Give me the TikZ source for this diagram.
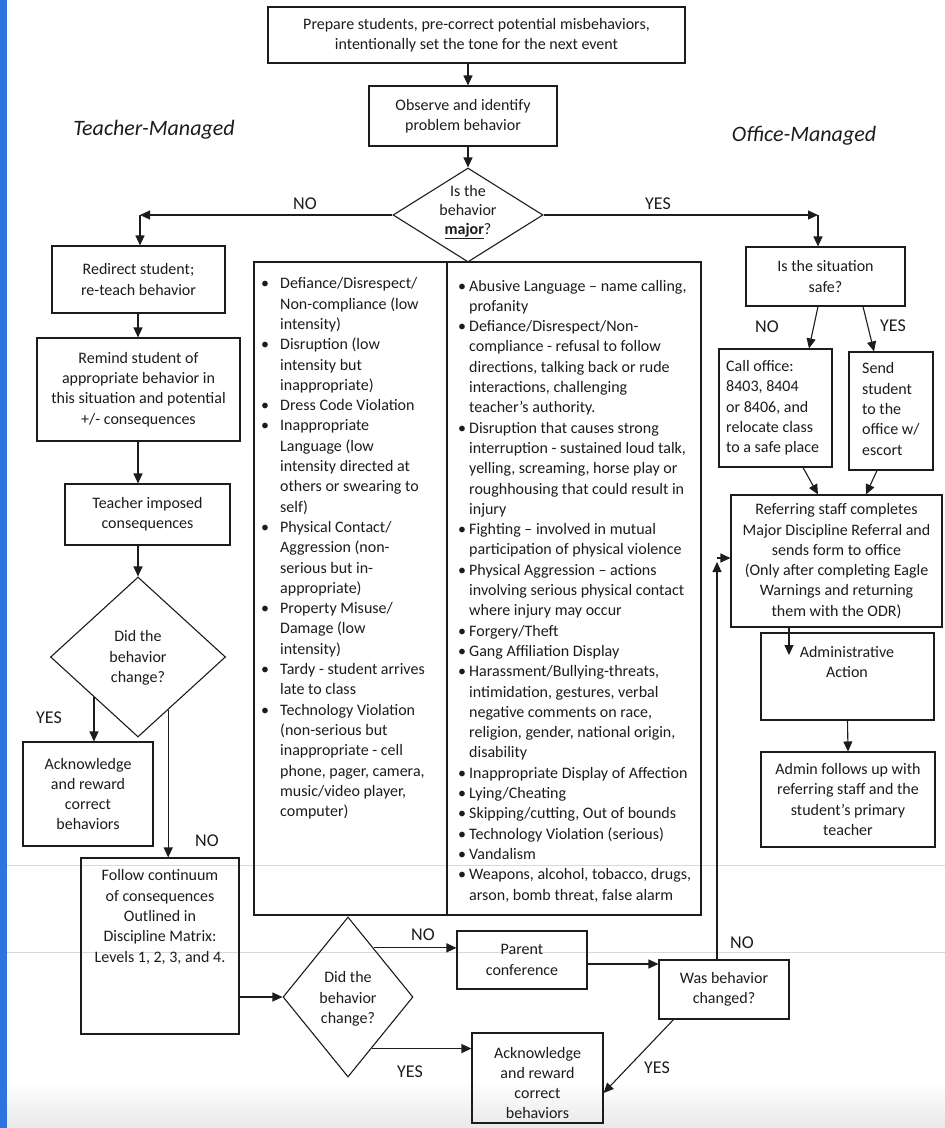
\documentclass[tikz,border=0pt]{standalone}
\usepackage{fontspec}
\setmainfont{Carlito}
\usetikzlibrary{arrows.meta,shapes.geometric,calc}
\definecolor{ink}{RGB}{28,28,28}
\definecolor{strip}{RGB}{45,115,225}
\newcommand{\lbul}{\makebox[19pt][l]{\textbullet}}
\newcommand{\lind}{\hspace*{19pt}}
\newcommand{\rbul}{\makebox[11pt][l]{\textbullet}}
\newcommand{\rind}{\hspace*{11pt}}
\begin{document}
\begin{tikzpicture}[x=1pt,y=-1pt,
  box/.style={draw=ink,line width=1.1pt,rectangle,inner sep=0pt},
  txt/.style={text=ink,font=\fontsize{16}{20.3}\selectfont,align=center,inner sep=0pt},
  ltxt/.style={text=ink,font=\fontsize{16}{20.3}\selectfont,align=left,inner sep=0pt},
  lab/.style={text=ink,font=\fontsize{18}{20}\selectfont,inner sep=0pt},
  head/.style={text=ink,font=\fontsize{22}{24}\selectfont\itshape,inner sep=0pt},
  dia/.style={draw=ink,line width=1.1pt,diamond,inner sep=0pt},
  arr/.style={draw=ink,line width=1.1pt,-{Triangle[length=10pt,width=9pt]}},
]
\useasboundingbox (0,0) rectangle (945,1128);
\fill[white] (0,0) rectangle (945,1128);
\shade[top color=white,bottom color=black!9] (0,1082) rectangle (945,1128);
\fill[strip] (0,0) rectangle (7,1128);
\draw[gray!30,line width=1pt] (7,865) -- (945,865);
\draw[gray!30,line width=1pt] (7,952) -- (945,952);

% headings
\node[head] (tm) at (154,130) {Teacher-Managed};
\node[head] (om) at (804,136) {Office-Managed};

% top
\node[box,txt,minimum width=417pt,minimum height=56pt] (top) at (476.5,35)
  {Prepare students, pre-correct potential misbehaviors,\\intentionally set the tone for the next event};
\node[box,txt,minimum width=188pt,minimum height=60pt] (obs) at (463,116)
  {Observe and identify\\problem behavior};
\node[dia,minimum width=150pt,minimum height=94pt] (maj) at (468,215) {};
\node[txt,font=\fontsize{16}{19}\selectfont] (majT) at (468,212) {Is the\\behavior\\\textbf{\underline{major}}?};

% left column
\node[box,txt,minimum width=173pt,minimum height=67pt] (redirect) at (138.5,279.5)
  {Redirect student;\\re-teach behavior};
\node[box,txt,minimum width=203pt,minimum height=103pt] (remind) at (138.5,389.5)
  {Remind student of\\appropriate behavior in\\this situation and potential\\+/- consequences};
\node[box,txt,minimum width=165pt,minimum height=61pt] (teacher) at (147.5,514.5)
  {Teacher imposed\\consequences};
\node[dia,minimum width=175pt,minimum height=160pt] (dia1) at (138,657) {};
\node[txt] (dia1T) at (138,658) {Did the\\behavior\\change?};
\node[box,txt,minimum width=130pt,minimum height=104pt] (ack1) at (88,794)
  {Acknowledge\\and reward\\correct\\behaviors};
\node[box,minimum width=158pt,minimum height=176pt] (follow) at (160,946) {};
\node[txt] (followT) at (160,917)
  {Follow continuum\\of consequences\\Outlined in\\Discipline Matrix:\\Levels 1, 2, 3, and 4.};

% middle lists
\node[box,minimum width=193pt,minimum height=653pt] (listL) at (350.5,588.5) {};
\node[box,minimum width=254pt,minimum height=653pt] (listR) at (574,588.5) {};
\node[ltxt,anchor=west] (listLT) at (261,548.5)
 {\lbul Defiance/Disrespect/\\
  \lind Non-compliance (low\\
  \lind intensity)\\
  \lbul Disruption (low\\
  \lind intensity but\\
  \lind inappropriate)\\
  \lbul Dress Code Violation\\
  \lbul Inappropriate\\
  \lind Language (low\\
  \lind intensity directed at\\
  \lind others or swearing to\\
  \lind self)\\
  \lbul Physical Contact/\\
  \lind Aggression (non-\\
  \lind serious but in-\\
  \lind appropriate)\\
  \lbul Property Misuse/\\
  \lind Damage (low\\
  \lind intensity)\\
  \lbul Tardy - student arrives\\
  \lind late to class\\
  \lbul Technology Violation\\
  \lind (non-serious but\\
  \lind inappropriate - cell\\
  \lind phone, pager, camera,\\
  \lind music/video player,\\
  \lind computer)};
\node[ltxt,anchor=west] (listRT) at (458,591)
 {\rbul Abusive Language – name calling,\\
  \rind profanity\\
  \rbul Defiance/Disrespect/Non-\\
  \rind compliance - refusal to follow\\
  \rind directions, talking back or rude\\
  \rind interactions, challenging\\
  \rind teacher’s authority.\\
  \rbul Disruption that causes strong\\
  \rind interruption - sustained loud talk,\\
  \rind yelling, screaming, horse play or\\
  \rind roughhousing that could result in\\
  \rind injury\\
  \rbul Fighting – involved in mutual\\
  \rind participation of physical violence\\
  \rbul Physical Aggression – actions\\
  \rind involving serious physical contact\\
  \rind where injury may occur\\
  \rbul Forgery/Theft\\
  \rbul Gang Affiliation Display\\
  \rbul Harassment/Bullying-threats,\\
  \rind intimidation, gestures, verbal\\
  \rind negative comments on race,\\
  \rind religion, gender, national origin,\\
  \rind disability\\
  \rbul Inappropriate Display of Affection\\
  \rbul Lying/Cheating\\
  \rbul Skipping/cutting, Out of bounds\\
  \rbul Technology Violation (serious)\\
  \rbul Vandalism\\
  \rbul Weapons, alcohol, tobacco, drugs,\\
  \rind arson, bomb threat, false alarm};

% right column
\node[box,txt,minimum width=159pt,minimum height=59pt] (safe) at (825.5,276.5)
  {Is the situation\\safe?};
\node[box,minimum width=113pt,minimum height=118pt] (call) at (775.5,408) {};
\node[ltxt,anchor=west] (callT) at (726,408)
  {Call office:\\8403, 8404\\or 8406, and\\relocate class\\to a safe place};
\node[box,minimum width=84pt,minimum height=118pt] (send) at (891,411) {};
\node[ltxt,anchor=west] (sendT) at (862,409)
  {Send\\student\\to the\\office w/\\escort};
\node[box,txt,minimum width=211pt,minimum height=132pt] (ref) at (836.5,561)
  {Referring staff completes\\Major Discipline Referral and\\sends form to office\\(Only after completing Eagle\\Warnings and returning\\them with the ODR)};
\node[box,minimum width=173pt,minimum height=87pt] (admin) at (847.5,676.5) {};
\node[txt] (adminT) at (847,662) {Administrative\\Action};
\node[box,txt,minimum width=174pt,minimum height=95pt] (follows) at (848,799.5)
  {Admin follows up with\\referring staff and the\\student’s primary\\teacher};

% bottom
\node[dia,minimum width=130pt,minimum height=160pt] (dia2) at (348,997) {};
\node[txt] (dia2T) at (348,999) {Did the\\behavior\\change?};
\node[box,txt,minimum width=130pt,minimum height=58pt] (parent) at (522,960)
  {Parent\\conference};
\node[box,txt,minimum width=130pt,minimum height=59pt] (was) at (724,989.5)
  {Was behavior\\changed?};
\node[box,minimum width=131pt,minimum height=90pt] (ack2) at (537.5,1078) {};
\node[txt] (ack2T) at (537.5,1083) {Acknowledge\\and reward\\correct\\behaviors};

% labels
\node[lab] (l1) at (305,204) {NO};
\node[lab] (l2) at (658,204) {YES};
\node[lab] (l3) at (767,327) {NO};
\node[lab] (l4) at (893,326) {YES};
\node[lab] (l5) at (49,718) {YES};
\node[lab] (l6) at (207,841) {NO};
\node[lab] (l7) at (423,935) {NO};
\node[lab] (l8) at (410,1072) {YES};
\node[lab] (l9) at (742,943) {NO};
\node[lab] (l10) at (657,1068) {YES};

% connectors
\coordinate (cA) at (468,0);
\draw[arr] (top.south -| cA) -- (obs.north -| cA);
\draw[arr] (obs.south -| cA) -- (maj.north);
\coordinate (cNO) at (140,215);
\coordinate (cYES) at (818,215);
\draw[arr] (maj.west) -- (cNO);
\draw[arr] (cNO) -- (redirect.north -| cNO);
\draw[arr] (maj.east) -- (cYES);
\draw[arr] (cYES) -- (safe.north -| cYES);

\coordinate (cL) at (138,0);
\draw[arr] (redirect.south -| cL) -- (remind.north -| cL);
\draw[arr] (remind.south -| cL) -- (teacher.north -| cL);
\draw[arr] (teacher.south -| cL) -- (dia1.north);
\coordinate (d1y) at (dia1.south west);
\draw[arr] (d1y) -- (d1y |- ack1.north);
\coordinate (d1n) at ($(dia1.east)!0.657!(dia1.south)$);
\draw[arr] (d1n) -- (d1n |- follow.north);
\draw[arr] (follow.east |- dia2.west) -- (dia2.west);

\coordinate (d2n) at ($(dia2.north)!0.39!(dia2.east)$);
\draw[arr] (d2n) -- (parent.west |- d2n);
\coordinate (d2y) at ($(dia2.east)!0.64!(dia2.south)$);
\draw[arr] (d2y) -- (ack2.west |- d2y);
\coordinate (pw) at (0,964);
\draw[arr] (parent.east |- pw) -- (was.west |- pw);
\coordinate (cR) at (717,558);
\draw[arr] (was.north -| cR) -- ($(cR)+(0,4)$);
\draw[arr] (cR) -- (ref.west |- cR);
\draw[arr] ($(was.south west)!0.115!(was.south east)$) -- ($(ack2.east)+(0,15)$);

\draw[arr] ($(safe.south)+(-7.5,0)$) -- ($(call.north)+(33.5,0)$);
\draw[arr] ($(safe.south)+(37.5,0)$) -- ($(send.north)+(-17,0)$);
\draw[arr] ($(call.south)+(27.5,0)$) -- ($(ref.north)+(-18.5,0)$);
\draw[arr] ($(send.south)+(-14,0)$) -- ($(ref.north)+(29.5,0)$);
\coordinate (cAd) at (789,655);
\draw[arr] (ref.south -| cAd) -- (cAd);
\draw[arr] (admin.south) -- (follows.north);
\end{tikzpicture}
\end{document}
